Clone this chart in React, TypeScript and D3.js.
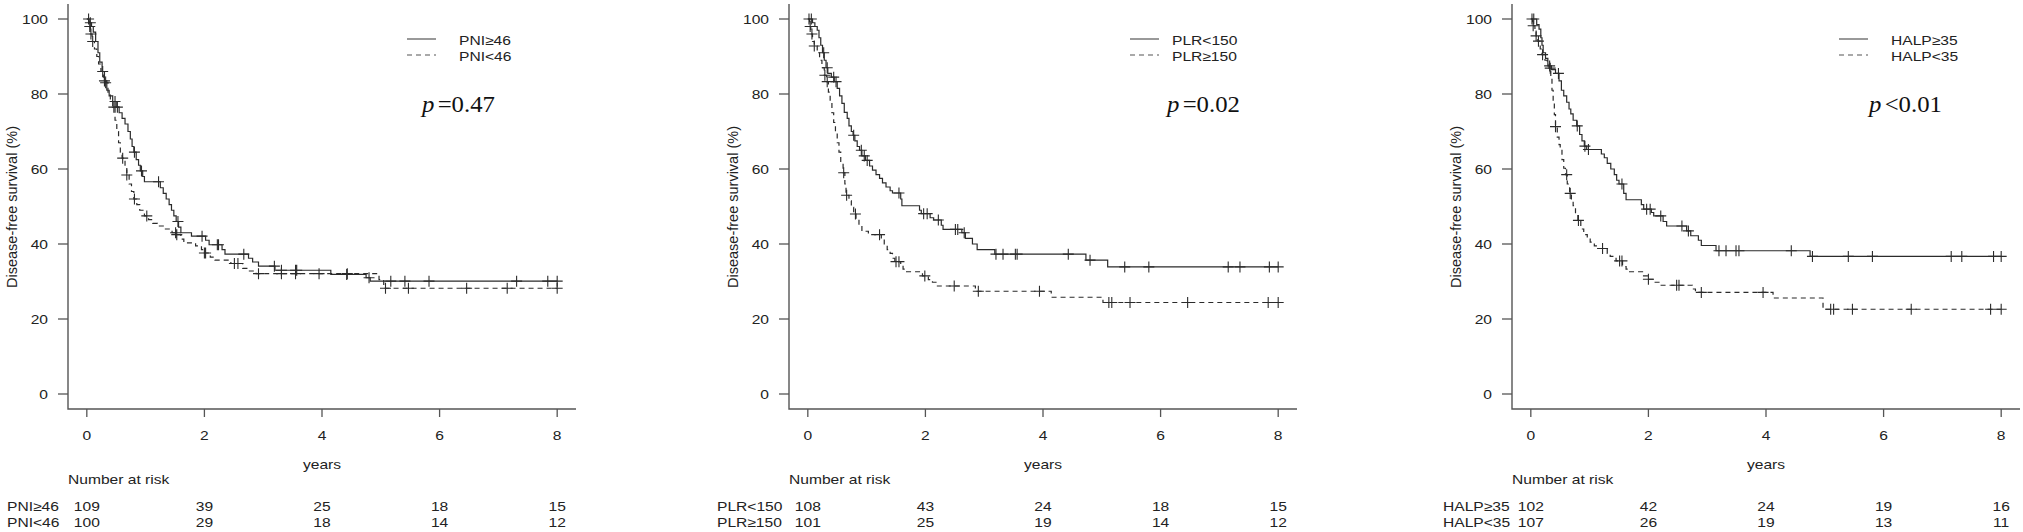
import React from 'react';
import * as d3 from 'd3';

// ---------- data ----------
const xTicks = [0, 2, 4, 6, 8];
const yTicks = [0, 20, 40, 60, 80, 100];

// Panel 1: PNI
const pniHighT = [0, 0.04, 0.08, 0.11, 0.15, 0.19, 0.22, 0.26, 0.3, 0.34, 0.38, 0.44, 0.5, 0.55, 0.6, 0.65, 0.7, 0.74, 0.77, 0.8, 0.84, 0.88, 0.91, 0.95, 0.98, 1.25, 1.3, 1.35, 1.4, 1.44, 1.48, 1.52, 1.56, 1.6, 1.78, 2.02, 2.08, 2.3, 2.35, 2.75, 2.82, 2.92, 3.2, 4.15, 4.75, 4.82];
const pniHighS = [100, 99, 98, 96.5, 94, 91, 88.5, 86, 83.5, 81, 79.5, 78, 76.5, 75, 73.5, 72, 70, 68, 66, 64.5, 62.5, 61, 59.5, 58, 56.6, 55, 53.5, 52, 50.5, 49, 47.5, 46, 44.5, 43, 42.1, 41, 39.8, 38.5, 37.3, 36.2, 35.2, 34.1, 33, 31.9, 31, 30.1];
const pniHighC = [0.03, 0.06, 0.3, 0.48, 0.52, 0.81, 0.93, 1.22, 1.55, 1.96, 2.22, 2.24, 2.67, 3.19, 3.31, 3.55, 3.57, 4.42, 4.8, 5.17, 5.41, 5.82, 7.31, 7.84, 8.0];
const pniLowT = [0, 0.03, 0.06, 0.09, 0.13, 0.17, 0.2, 0.24, 0.28, 0.32, 0.36, 0.4, 0.44, 0.48, 0.51, 0.54, 0.57, 0.6, 0.65, 0.68, 0.72, 0.76, 0.8, 0.85, 0.9, 0.98, 1.05, 1.12, 1.2, 1.3, 1.45, 1.52, 1.6, 1.65, 1.85, 1.95, 2.0, 2.1, 2.18, 2.45, 2.65, 2.75, 2.88, 4.97, 5.05];
const pniLowS = [100, 98, 96, 94, 92, 90, 88, 86, 84.5, 83, 80.5, 78.5, 76.5, 73, 70, 67, 64.5, 62.9, 60.5, 58.4, 56, 54, 52, 50.5, 49, 47.5, 46.5, 45.5, 44.8, 44, 43, 42.5, 41.3, 40.3, 39.5, 38.5, 37.6, 36.5, 35.7, 34.8, 33.5, 32.8, 32.1, 30.5, 28.2];
const pniLowC = [0.05, 0.07, 0.1, 0.27, 0.32, 0.46, 0.61, 0.68, 0.81, 1.02, 1.51, 1.53, 2.0, 2.02, 2.51, 2.57, 2.92, 3.31, 3.55, 3.95, 4.43, 5.08, 5.47, 6.46, 7.15, 8.0];
const pniRiskHigh = [109, 39, 25, 18, 15];
const pniRiskLow = [100, 29, 18, 14, 12];

// Panel 2: PLR
const plrLowT = [0, 0.08, 0.12, 0.16, 0.19, 0.22, 0.25, 0.28, 0.31, 0.34, 0.4, 0.45, 0.5, 0.54, 0.58, 0.62, 0.67, 0.7, 0.74, 0.77, 0.8, 0.84, 0.88, 0.92, 0.98, 1.05, 1.1, 1.16, 1.22, 1.27, 1.33, 1.4, 1.44, 1.58, 1.6, 1.9, 1.93, 2.08, 2.14, 2.27, 2.3, 2.62, 2.68, 2.8, 2.88, 3.18, 4.73, 5.1];
const plrLowS = [100, 99, 98, 97, 95, 93, 91, 89, 87, 85.5, 84.5, 83.3, 81.5, 79.5, 77.5, 75.1, 73.5, 71.5, 70, 69, 67.5, 66, 65, 63.5, 62.3, 60.8, 59.7, 58.5, 57.5, 56.3, 55.2, 54.2, 53.6, 52, 50.2, 49, 48.1, 47, 46.4, 45, 43.9, 43, 41.5, 40, 38.5, 37.3, 35.7, 33.9];
const plrLowC = [0.02, 0.06, 0.27, 0.33, 0.44, 0.48, 0.78, 0.91, 0.96, 1.01, 1.55, 1.97, 2.03, 2.22, 2.51, 2.55, 2.66, 3.2, 3.32, 3.53, 3.56, 4.43, 4.8, 5.39, 5.8, 7.15, 7.35, 7.85, 8.0];
const plrHighT = [0, 0.03, 0.05, 0.08, 0.11, 0.16, 0.2, 0.24, 0.28, 0.32, 0.35, 0.38, 0.41, 0.44, 0.47, 0.5, 0.53, 0.56, 0.6, 0.63, 0.65, 0.7, 0.74, 0.78, 0.82, 0.87, 0.92, 1.03, 1.25, 1.3, 1.35, 1.4, 1.44, 1.48, 1.58, 1.62, 1.68, 1.95, 2.05, 2.12, 2.18, 2.85, 4.14, 5.02];
const plrHighS = [100, 98, 96, 94, 92.8, 91, 89, 87, 85, 83.3, 80.5, 77.8, 75, 72.4, 70, 67, 64.5, 62, 59, 56, 53, 51.5, 49.8, 48, 46.6, 45, 43.4, 42.5, 41.2, 40, 38.5, 37.5, 36.2, 35.3, 34.2, 33.3, 32.6, 31.5, 30.5, 29.8, 28.8, 27.4, 25.8, 24.4];
const plrHighC = [0.04, 0.07, 0.11, 0.29, 0.33, 0.61, 0.66, 0.81, 1.22, 1.5, 1.55, 1.99, 2.49, 2.9, 3.94, 5.12, 5.17, 5.48, 6.46, 7.83, 8.0];
const plrRiskLow = [108, 43, 24, 18, 15];
const plrRiskHigh = [101, 25, 19, 14, 12];

// Panel 3: HALP
const halpHighT = [0, 0.1, 0.14, 0.17, 0.19, 0.21, 0.25, 0.29, 0.35, 0.42, 0.48, 0.52, 0.56, 0.61, 0.65, 0.68, 0.72, 0.78, 0.83, 0.87, 0.91, 0.95, 1.2, 1.25, 1.3, 1.36, 1.42, 1.46, 1.5, 1.58, 1.62, 1.88, 1.92, 2.05, 2.09, 2.25, 2.31, 2.65, 2.72, 2.85, 2.9, 3.15, 4.75];
const halpHighS = [100, 98.5, 97.3, 95, 93, 91, 89.5, 87.5, 86.5, 85.5, 83.5, 81, 79.5, 77.8, 76, 74.7, 73, 71.5, 69.2, 67.5, 66.1, 65.2, 64, 63, 61.5, 60, 58.5, 57, 56, 53.5, 51.8, 50.5, 49.3, 48.4, 47.5, 46, 44.8, 43.5, 42.2, 41, 39.6, 38.2, 36.7];
const halpHighC = [0.02, 0.05, 0.32, 0.47, 0.79, 0.92, 0.98, 1.55, 1.97, 2.03, 2.21, 2.57, 2.68, 3.2, 3.32, 3.49, 3.54, 4.43, 4.79, 5.4, 5.81, 7.15, 7.33, 7.87, 8.0];
const halpLowT = [0, 0.03, 0.07, 0.09, 0.12, 0.16, 0.19, 0.24, 0.28, 0.31, 0.34, 0.36, 0.38, 0.4, 0.42, 0.45, 0.48, 0.5, 0.53, 0.56, 0.59, 0.62, 0.66, 0.69, 0.72, 0.76, 0.8, 0.85, 0.9, 0.96, 1.01, 1.08, 1.15, 1.3, 1.35, 1.45, 1.56, 1.62, 1.68, 1.9, 2.0, 2.1, 2.2, 2.75, 2.8, 4.12, 4.97];
const halpLowS = [100, 98.2, 96.5, 95.5, 94.1, 92, 90.5, 89, 88, 86.9, 84.2, 81, 77.8, 74.5, 71.3, 68.5, 66.5, 65.2, 62.5, 60.2, 58.5, 56, 53.5, 51.5, 50.2, 48, 46.3, 44, 42.5, 41.5, 40.5, 39.5, 38.8, 37.5, 36.7, 35.5, 34, 33.3, 32.6, 31.5, 30.6, 29.8, 29, 28, 27.1, 25.6, 22.6];
const halpLowC = [0.04, 0.09, 0.13, 0.2, 0.33, 0.42, 0.61, 0.67, 0.81, 1.22, 1.51, 1.55, 2.0, 2.48, 2.52, 2.9, 3.95, 5.1, 5.15, 5.47, 6.47, 7.82, 8.0];
const halpRiskHigh = [102, 42, 24, 19, 16];
const halpRiskLow = [107, 26, 19, 13, 11];

const panels = [
  {
    axisX: 68, legLine: 339, legText: 391, pX: 354, rowLabelX: 7,
    labels: ['PNI≥46', 'PNI<46'], pText: '=0.47',
    solid: { t: pniHighT, s: pniHighS, c: pniHighC }, dashed: { t: pniLowT, s: pniLowS, c: pniLowC },
    risk: [pniRiskHigh, pniRiskLow],
  },
  {
    axisX: 789, legLine: 341, legText: 383, pX: 378, rowLabelX: 717,
    labels: ['PLR<150', 'PLR≥150'], pText: '=0.02',
    solid: { t: plrLowT, s: plrLowS, c: plrLowC }, dashed: { t: plrHighT, s: plrHighS, c: plrHighC },
    risk: [plrRiskLow, plrRiskHigh],
  },
  {
    axisX: 1512, legLine: 327, legText: 379, pX: 357, rowLabelX: 1443,
    labels: ['HALP≥35', 'HALP<35'], pText: '<0.01',
    solid: { t: halpHighT, s: halpHighS, c: halpHighC }, dashed: { t: halpLowT, s: halpLowS, c: halpLowC },
    risk: [halpRiskHigh, halpRiskLow],
  },
];

// ---------- layout ----------
const W = 2023;
const H = 532;
const PLOT_W = 508;
const Y_TOP = 4;
const Y_BOT = 409;
const SANS = "'Liberation Sans', Arial, Helvetica, sans-serif";
const SERIF = "'Liberation Serif', 'Times New Roman', serif";
const TXT = '#222';
const AXIS = '#555';
const CURVE = '#2b2b2b';
const SX = 1.2;

function ST({ x, y, anchor = 'start', size = 13, children }: any) {
  return (
    <text
      transform={`translate(${x},${y}) scale(${SX},1)`}
      textAnchor={anchor}
      fontSize={size}
      fontFamily={SANS}
      fill={TXT}
    >
      {children}
    </text>
  );
}

function survAt(t: number[], s: number[], time: number) {
  let v = s[0];
  for (let i = 0; i < t.length; i++) {
    if (t[i] <= time) v = s[i];
  }
  return v;
}

function Panel({ cfg }: any) {
  const x = d3.scaleLinear().domain([-0.32, 8.32]).range([cfg.axisX, cfg.axisX + PLOT_W]);
  const y = d3.scaleLinear().domain([-4, 104]).range([Y_BOT, Y_TOP]);
  const line = d3
    .line<[number, number]>()
    .x((d) => x(d[0]))
    .y((d) => y(d[1]))
    .curve(d3.curveStepAfter);

  const curvePath = (c: any) => {
    const pts: [number, number][] = c.t.map((tt: number, i: number) => [tt, c.s[i]]);
    pts.push([8, c.s[c.s.length - 1]]);
    return line(pts) || '';
  };
  const censorPath = (c: any) =>
    c.c
      .map((tt: number) => {
        const cx = x(tt);
        const cy = y(survAt(c.t, c.s, tt));
        return `M${cx - 5.5},${cy}h11M${cx},${cy - 5.5}v11`;
      })
      .join('');

  const ax = cfg.axisX;
  const rowsY = [511, 527];

  return (
    <g>
      {/* axes */}
      <path d={`M${ax},${Y_TOP}V${Y_BOT}H${ax + PLOT_W}`} fill="none" stroke={AXIS} strokeWidth={1.4} />
      {yTicks.map((v) => (
        <g key={'y' + v}>
          <line x1={ax - 10} x2={ax} y1={y(v)} y2={y(v)} stroke={AXIS} strokeWidth={1.3} />
          <ST x={ax - 20} y={y(v) + 4.7} anchor="end">{v}</ST>
        </g>
      ))}
      {xTicks.map((v) => (
        <g key={'x' + v}>
          <line x1={x(v)} x2={x(v)} y1={Y_BOT} y2={Y_BOT + 8} stroke={AXIS} strokeWidth={1.3} />
          <ST x={x(v)} y={440} anchor="middle">{v}</ST>
        </g>
      ))}
      <text
        transform={`translate(${ax - 51},${207}) rotate(-90)`}
        textAnchor="middle"
        fontSize={14.5}
        fontFamily={SANS}
        fill={TXT}
      >
        Disease-free survival (%)
      </text>
      <ST x={x(4)} y={469} anchor="middle">years</ST>

      {/* curves */}
      <path d={curvePath(cfg.solid)} fill="none" stroke={CURVE} strokeWidth={1.2} />
      <path d={curvePath(cfg.dashed)} fill="none" stroke={CURVE} strokeWidth={1.2} strokeDasharray="5,4" />
      <path d={censorPath(cfg.solid)} fill="none" stroke={CURVE} strokeWidth={1.1} />
      <path d={censorPath(cfg.dashed)} fill="none" stroke={CURVE} strokeWidth={1.1} />

      {/* legend */}
      <line x1={ax + cfg.legLine} x2={ax + cfg.legLine + 29} y1={39} y2={39} stroke={CURVE} strokeWidth={1.2} opacity={0.8} />
      <line x1={ax + cfg.legLine} x2={ax + cfg.legLine + 29} y1={55} y2={55} stroke={CURVE} strokeWidth={1.2} strokeDasharray="5,4" opacity={0.8} />
      <ST x={ax + cfg.legText} y={45}>{cfg.labels[0]}</ST>
      <ST x={ax + cfg.legText} y={61}>{cfg.labels[1]}</ST>

      {/* p-value */}
      <text
        transform={`translate(${ax + cfg.pX},${112}) scale(1.1,1)`}
        fontSize={22.5}
        fontFamily={SERIF}
        fill="#111"
      >
        <tspan fontStyle="italic">p</tspan>
        <tspan dx={3}>{cfg.pText}</tspan>
      </text>

      {/* number at risk */}
      <ST x={ax} y={484}>Number at risk</ST>
      {cfg.risk.map((row: number[], ri: number) => (
        <g key={'r' + ri}>
          <ST x={cfg.rowLabelX} y={rowsY[ri]}>{cfg.labels[ri]}</ST>
          {row.map((n, i) => (
            <ST key={i} x={x(xTicks[i])} y={rowsY[ri]} anchor="middle">{n}</ST>
          ))}
        </g>
      ))}
    </g>
  );
}

export default function App() {
  return (
    <svg
      width={W}
      height={H}
      style={{ position: 'absolute', left: 0, top: 0, display: 'block', background: '#fff' }}
    >
      <rect x={0} y={0} width={W} height={H} fill="#fff" />
      {panels.map((p, i) => (
        <Panel key={i} cfg={p} />
      ))}
    </svg>
  );
}
